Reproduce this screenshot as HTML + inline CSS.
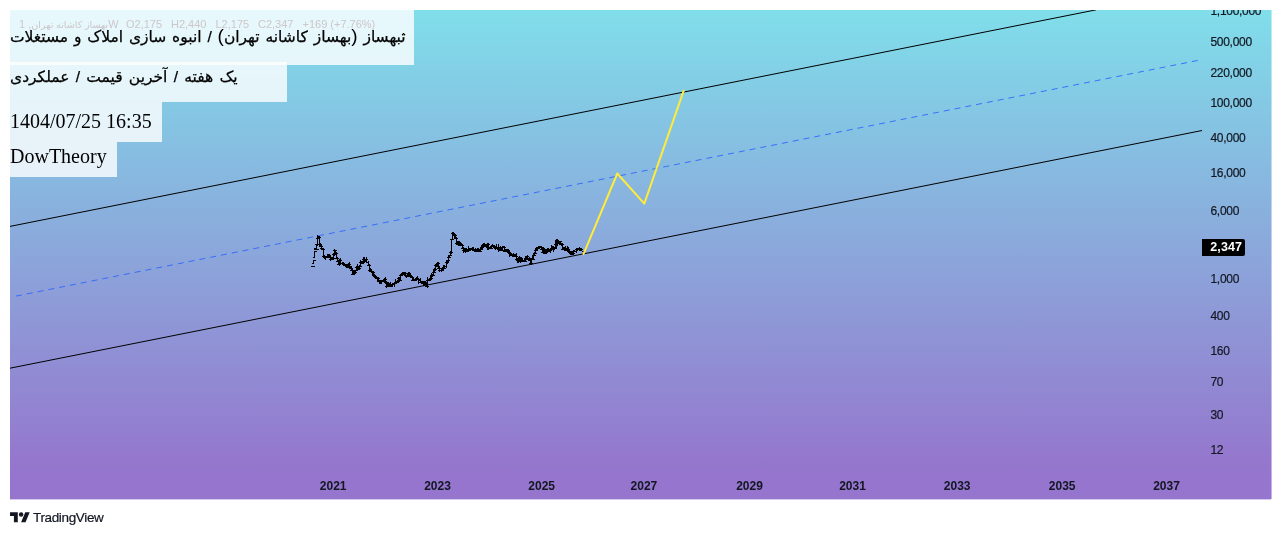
<!DOCTYPE html>
<html lang="fa"><head><meta charset="utf-8"><title>TradingView chart</title>
<style>
html,body{margin:0;padding:0;background:#fff;}
body{width:1282px;height:535px;position:relative;overflow:hidden;font-family:"Liberation Sans","DejaVu Sans",sans-serif;color:#131722;}
#chart{position:absolute;left:10px;top:10px;width:1261px;height:489px;overflow:hidden;background:linear-gradient(to bottom,#80deea 0px,#9575cd 461px,#9575cd 100%);}
#chart svg{position:absolute;left:0;top:0;}
.box{position:absolute;left:0;background:rgba(255,255,255,0.8);}
.t{position:absolute;white-space:nowrap;color:#000;font-family:"Liberation Serif","DejaVu Sans",serif;font-size:20px;line-height:24px;}
.fa{font-family:"Liberation Sans","DejaVu Sans",sans-serif;font-size:15.5px;word-spacing:0.8px;direction:rtl;unicode-bidi:plaintext;-webkit-text-stroke:0.25px #000;}
.pr{font-family:"Liberation Sans",sans-serif;font-size:19px;line-height:1px;-webkit-text-stroke:0;}
.lg{position:absolute;top:7px;font-size:11px;line-height:14px;color:#cdc6ca;white-space:nowrap;}
.p{position:absolute;left:1200.5px;font-size:12px;line-height:14px;letter-spacing:-0.3px;color:#131722;white-space:nowrap;-webkit-text-stroke:0.2px #131722;}
.y{position:absolute;top:469px;width:60px;margin-left:-30px;text-align:center;font-size:12px;line-height:14px;font-weight:bold;color:#131722;white-space:nowrap;}
#last{position:absolute;left:1191.8px;top:229.2px;width:43.2px;height:16.6px;background:#000;border-radius:0 2px 2px 0;color:#fff;font-weight:bold;font-size:12.5px;line-height:16.6px;letter-spacing:0.1px;}
#last span{position:absolute;left:8.5px;top:0;}
#brand{position:absolute;left:10px;top:509px;height:18px;white-space:nowrap;color:#131722;}
#brand svg{position:absolute;left:0;top:0.7px;}
#brand span{position:absolute;left:23px;top:0;font-size:13.5px;line-height:18px;letter-spacing:-0.35px;-webkit-text-stroke:0.2px #131722;}
</style></head>
<body>
<div id="chart">
<svg width="1261" height="489" viewBox="10 10 1261 489">
<g fill="none" stroke-linecap="butt">
<line x1="10" y1="226.4" x2="1096" y2="9.85" stroke="#000" stroke-width="1"/>
<line x1="10" y1="368.2" x2="1202" y2="130.52" stroke="#000" stroke-width="1"/>
<line x1="16" y1="296.10" x2="1198.5" y2="60.31" stroke="#2962ff" stroke-width="1" stroke-dasharray="6 5" opacity="0.85"/>
<path d="M310.5 266.5H315 M311.5 263.5H313.5V260H316 M312.5 257.5H314.5V251H317 M314 249H318.5 M316.5 243.5V249.0 M314.0 248.5H316.5M316.5 244.5H319.0 M317.5 235.0V246.4 M315.0 244.5H317.5M317.5 238.5H320.0 M318.5 235.5V238.7 M316.0 238.5H318.5M318.5 237.5H321.0 M319.5 235.5V246.7 M317.0 237.5H319.5M319.5 244.5H322.0 M320.5 243.1V247.0 M318.0 244.5H320.5M320.5 246.5H323.0 M321.5 244.5V249.5 M319.0 246.5H321.5M321.5 248.5H324.0 M322.5 247.9V250.2 M320.0 248.5H322.5M322.5 249.5H325.0 M323.5 248.1V257.1 M321.0 249.5H323.5M323.5 256.5H326.0 M324.5 255.1V258.5 M322.0 256.5H324.5M324.5 257.5H327.0 M325.5 256.1V260.1 M323.0 257.5H325.5M325.5 257.5H328.0 M326.5 256.1V258.2 M324.0 257.5H326.5M326.5 257.5H329.0 M327.5 254.4V258.3 M325.0 257.5H327.5M327.5 256.5H330.0 M328.5 253.8V258.4 M326.0 256.5H328.5M328.5 255.5H331.0 M329.5 254.2V257.6 M327.0 255.5H329.5M329.5 257.5H332.0 M330.5 256.3V261.1 M328.0 257.5H330.5M330.5 259.5H333.0 M331.5 256.5V259.8 M329.0 259.5H331.5M331.5 259.5H334.0 M332.5 257.1V259.7 M330.0 259.5H332.5M332.5 258.5H335.0 M333.5 252.8V259.9 M331.0 258.5H333.5M333.5 254.5H336.0 M334.5 249.3V256.4 M332.0 254.5H334.5M334.5 250.5H337.0 M335.5 249.6V253.8 M333.0 250.5H335.5M335.5 253.5H338.0 M336.5 252.2V259.4 M334.0 253.5H336.5M336.5 258.5H339.0 M337.5 257.4V262.0 M335.0 258.5H337.5M337.5 261.5H340.0 M338.5 259.5V265.0 M336.0 261.5H338.5M338.5 264.5H341.0 M339.5 259.2V266.0 M337.0 264.5H339.5M339.5 260.5H342.0 M340.5 257.9V263.5 M338.0 260.5H340.5M340.5 263.5H343.0 M342.5 262.3V264.0 M340.0 263.5H342.5M342.5 263.5H345.0 M343.5 262.4V264.9 M341.0 263.5H343.5M343.5 264.5H346.0 M344.5 262.5V265.1 M342.0 264.5H344.5M344.5 265.5H347.0 M345.5 263.6V267.3 M343.0 265.5H345.5M345.5 265.5H348.0 M346.5 263.8V268.3 M344.0 265.5H346.5M346.5 266.5H349.0 M347.5 265.5V267.2 M345.0 266.5H347.5M347.5 267.5H350.0 M348.5 263.0V268.0 M346.0 267.5H348.5M348.5 264.5H351.0 M349.5 261.7V268.4 M347.0 264.5H349.5M349.5 266.5H352.0 M350.5 265.8V268.7 M348.0 266.5H350.5M350.5 268.5H353.0 M351.5 267.1V271.0 M349.0 268.5H351.5M351.5 270.5H354.0 M352.5 268.1V275.0 M350.0 270.5H352.5M352.5 274.5H355.0 M353.5 271.1V274.5 M351.0 274.5H353.5M353.5 272.5H356.0 M354.5 270.3V273.7 M352.0 272.5H354.5M354.5 272.5H357.0 M355.5 269.7V273.7 M353.0 272.5H355.5M355.5 270.5H358.0 M356.5 265.9V271.0 M354.0 270.5H356.5M356.5 267.5H359.0 M357.5 264.4V270.0 M355.0 267.5H357.5M357.5 269.5H360.0 M358.5 267.0V269.7 M356.0 269.5H358.5M358.5 268.5H361.0 M359.5 265.4V269.2 M357.0 268.5H359.5M359.5 266.5H362.0 M360.5 259.5V267.0 M358.0 266.5H360.5M360.5 262.5H363.0 M361.5 260.5V264.3 M359.0 262.5H361.5M361.5 261.5H364.0 M362.5 260.9V263.5 M360.0 261.5H362.5M362.5 262.5H365.0 M363.5 257.4V264.0 M361.0 262.5H363.5M363.5 259.5H366.0 M364.5 256.7V262.2 M362.0 259.5H364.5M364.5 261.5H367.0 M365.5 258.6V261.5 M363.0 261.5H365.5M365.5 259.5H368.0 M366.5 257.2V262.5 M364.0 259.5H366.5M366.5 262.5H369.0 M368.5 260.5V266.2 M366.0 262.5H368.5M368.5 265.5H371.0 M369.5 263.9V270.9 M367.0 265.5H369.5M369.5 270.5H372.0 M370.5 268.3V272.3 M368.0 270.5H370.5M370.5 271.5H373.0 M371.5 269.4V272.6 M369.0 271.5H371.5M371.5 271.5H374.0 M372.5 270.7V274.5 M370.0 271.5H372.5M372.5 272.5H375.0 M373.5 271.1V275.9 M371.0 272.5H373.5M373.5 275.5H376.0 M374.5 274.3V277.2 M372.0 275.5H374.5M374.5 276.5H377.0 M375.5 274.5V278.5 M373.0 276.5H375.5M375.5 277.5H378.0 M376.5 275.9V279.2 M374.0 277.5H376.5M376.5 278.5H379.0 M377.5 276.9V280.9 M375.0 278.5H377.5M377.5 278.5H380.0 M378.5 277.2V282.3 M376.0 278.5H378.5M378.5 281.5H381.0 M379.5 280.4V284.1 M377.0 281.5H379.5M379.5 281.5H382.0 M380.5 280.2V284.1 M378.0 281.5H380.5M380.5 281.5H383.0 M381.5 279.7V284.1 M379.0 281.5H381.5M381.5 281.5H384.0 M382.5 280.2V282.0 M380.0 281.5H382.5M382.5 281.5H385.0 M383.5 279.0V282.1 M381.0 281.5H383.5M383.5 280.5H386.0 M384.5 277.9V280.4 M382.0 280.5H384.5M384.5 279.5H387.0 M385.5 276.7V283.8 M383.0 279.5H385.5M385.5 282.5H388.0 M386.5 281.2V288.0 M384.0 282.5H386.5M386.5 286.5H389.0 M387.5 283.3V287.1 M385.0 286.5H387.5M387.5 286.5H390.0 M388.5 282.1V286.4 M386.0 286.5H388.5M388.5 284.5H391.0 M389.5 282.9V287.1 M387.0 284.5H389.5M389.5 285.5H392.0 M390.5 282.4V286.6 M388.0 285.5H390.5M390.5 285.5H393.0 M391.5 283.6V286.8 M389.0 285.5H391.5M391.5 284.5H394.0 M392.5 282.9V286.5 M390.0 284.5H392.5M392.5 284.5H395.0 M394.5 281.7V286.8 M392.0 284.5H394.5M394.5 283.5H397.0 M395.5 279.2V284.2 M393.0 283.5H395.5M395.5 282.5H398.0 M396.5 281.4V283.1 M394.0 282.5H396.5M396.5 282.5H399.0 M397.5 279.5V282.8 M395.0 282.5H397.5M397.5 281.5H400.0 M398.5 276.9V281.9 M396.0 281.5H398.5M398.5 278.5H401.0 M399.5 276.8V281.0 M397.0 278.5H399.5M399.5 280.5H402.0 M400.5 274.8V280.5 M398.0 280.5H400.5M400.5 275.5H403.0 M401.5 273.0V275.9 M399.0 275.5H401.5M401.5 274.5H404.0 M402.5 271.6V274.3 M400.0 274.5H402.5M402.5 274.5H405.0 M403.5 272.1V274.2 M401.0 274.5H403.5M403.5 273.5H406.0 M404.5 272.0V274.1 M402.0 273.5H404.5M404.5 273.5H407.0 M405.5 271.5V277.1 M403.0 273.5H405.5M405.5 275.5H408.0 M406.5 274.5V277.8 M404.0 275.5H406.5M406.5 276.5H409.0 M407.5 272.5V276.9 M405.0 276.5H407.5M407.5 273.5H410.0 M408.5 272.0V275.8 M406.0 273.5H408.5M408.5 273.5H411.0 M409.5 272.3V276.2 M407.0 273.5H409.5M409.5 275.5H412.0 M410.5 272.5V277.2 M408.0 275.5H410.5M410.5 276.5H413.0 M411.5 275.3V277.9 M409.0 276.5H411.5M411.5 277.5H414.0 M412.5 276.2V280.4 M410.0 277.5H412.5M412.5 280.5H415.0 M413.5 276.7V280.9 M411.0 280.5H413.5M413.5 279.5H416.0 M414.5 278.7V281.0 M412.0 279.5H414.5M414.5 279.5H417.0 M415.5 278.3V281.0 M413.0 279.5H415.5M415.5 279.5H418.0 M416.5 277.0V281.1 M414.0 279.5H416.5M416.5 278.5H419.0 M417.5 276.2V280.1 M415.0 278.5H417.5M417.5 279.5H420.0 M418.5 277.5V284.2 M416.0 279.5H418.5M418.5 280.5H421.0 M420.5 277.8V283.0 M418.0 280.5H420.5M420.5 282.5H423.0 M421.5 281.0V283.5 M419.0 282.5H421.5M421.5 282.5H424.0 M422.5 281.1V283.6 M420.0 282.5H422.5M422.5 283.5H425.0 M423.5 280.7V285.9 M421.0 283.5H423.5M423.5 281.5H426.0 M424.5 280.8V282.4 M422.0 281.5H424.5M424.5 282.5H427.0 M425.5 281.3V284.6 M423.0 282.5H425.5M425.5 284.5H428.0 M426.5 282.3V286.8 M424.0 284.5H426.5M426.5 286.5H429.0 M427.5 277.3V288.2 M425.0 286.5H427.5M427.5 280.5H430.0 M428.5 279.1V280.9 M426.0 280.5H428.5M428.5 280.5H431.0 M429.5 278.1V280.6 M427.0 280.5H429.5M429.5 279.5H432.0 M430.5 276.4V281.3 M428.0 279.5H430.5M430.5 278.5H433.0 M431.5 272.6V279.1 M429.0 278.5H431.5M431.5 275.5H434.0 M432.5 273.8V277.1 M430.0 275.5H432.5M432.5 275.5H435.0 M433.5 270.0V276.3 M431.0 275.5H433.5M433.5 272.5H436.0 M434.5 268.1V272.9 M432.0 272.5H434.5M434.5 269.5H437.0 M435.5 263.7V270.7 M433.0 269.5H435.5M435.5 265.5H438.0 M436.5 263.6V267.3 M434.0 265.5H436.5M436.5 266.5H439.0 M437.5 261.5V266.6 M435.0 266.5H437.5M437.5 263.5H440.0 M438.5 262.0V268.8 M436.0 263.5H438.5M438.5 268.5H441.0 M439.5 266.3V271.5 M437.0 268.5H439.5M439.5 270.5H442.0 M440.5 269.5V271.0 M438.0 270.5H440.5M440.5 270.5H443.0 M441.5 269.0V271.5 M439.0 270.5H441.5M441.5 270.5H444.0 M442.5 267.3V270.7 M440.0 270.5H442.5M442.5 268.5H445.0 M443.5 265.3V270.3 M441.0 268.5H443.5M443.5 268.5H446.0 M444.5 264.8V268.3 M442.0 268.5H444.5M444.5 266.5H447.0 M446.5 261.2V267.7 M444.0 266.5H446.5M446.5 262.5H449.0 M447.5 259.7V264.1 M445.0 262.5H447.5M447.5 260.5H450.0 M448.5 255.4V262.1 M446.0 260.5H448.5M448.5 257.5H451.0 M449.5 254.5V257.4 M447.0 257.5H449.5M449.5 255.5H452.0 M450.5 251.0V256.3 M448.0 255.5H450.5M450.5 252.5H453.0 M451.5 238.7V253.5 M449.0 252.5H451.5M451.5 239.5H454.0 M452.5 232.3V239.9 M450.0 239.5H452.5M452.5 233.5H455.0 M453.5 232.1V235.6 M451.0 233.5H453.5M453.5 234.5H456.0 M454.5 232.7V237.6 M452.0 234.5H454.5M454.5 235.5H457.0 M455.5 234.0V238.8 M453.0 235.5H455.5M455.5 238.5H458.0 M456.5 237.0V243.7 M454.0 238.5H456.5M456.5 243.5H459.0 M457.5 241.2V244.4 M455.0 243.5H457.5M457.5 244.5H460.0 M458.5 241.3V245.7 M456.0 244.5H458.5M458.5 242.5H461.0 M459.5 241.2V245.7 M457.0 242.5H459.5M459.5 244.5H462.0 M460.5 242.8V245.5 M458.0 244.5H460.5M460.5 244.5H463.0 M461.5 242.5V246.4 M459.0 244.5H461.5M461.5 245.5H464.0 M462.5 243.7V249.3 M460.0 245.5H462.5M462.5 248.5H465.0 M463.5 247.0V253.2 M461.0 248.5H463.5M463.5 250.5H466.0 M464.5 249.3V251.9 M462.0 250.5H464.5M464.5 251.5H467.0 M465.5 248.1V252.5 M463.0 251.5H465.5M465.5 249.5H468.0 M466.5 247.9V252.1 M464.0 249.5H466.5M466.5 251.5H469.0 M467.5 248.6V252.2 M465.0 251.5H467.5M467.5 249.5H470.0 M468.5 246.2V251.3 M466.0 249.5H468.5M468.5 250.5H471.0 M469.5 248.1V250.3 M467.0 250.5H469.5M469.5 249.5H472.0 M470.5 247.7V251.0 M468.0 249.5H470.5M470.5 248.5H473.0 M472.5 247.4V249.7 M470.0 248.5H472.5M472.5 249.5H475.0 M473.5 247.2V250.5 M471.0 249.5H473.5M473.5 250.5H476.0 M474.5 248.6V250.6 M472.0 250.5H474.5M474.5 249.5H477.0 M475.5 248.2V251.8 M473.0 249.5H475.5M475.5 251.5H478.0 M476.5 250.2V251.8 M474.0 251.5H476.5M476.5 251.5H479.0 M477.5 248.1V251.9 M475.0 251.5H477.5M477.5 249.5H480.0 M478.5 248.3V252.2 M476.0 249.5H478.5M478.5 250.5H481.0 M479.5 249.0V251.6 M477.0 250.5H479.5M479.5 251.5H482.0 M480.5 248.3V251.6 M478.0 251.5H480.5M480.5 249.5H483.0 M481.5 246.3V249.5 M479.0 249.5H481.5M481.5 247.5H484.0 M482.5 243.8V248.6 M480.0 247.5H482.5M482.5 245.5H485.0 M483.5 243.4V247.0 M481.0 245.5H483.5M483.5 244.5H486.0 M484.5 243.1V245.6 M482.0 244.5H484.5M484.5 245.5H487.0 M485.5 244.3V247.4 M483.0 245.5H485.5M485.5 246.5H488.0 M486.5 244.2V248.4 M484.0 246.5H486.5M486.5 246.5H489.0 M487.5 242.8V249.6 M485.0 246.5H487.5M487.5 244.5H490.0 M488.5 243.1V249.6 M486.0 244.5H488.5M488.5 248.5H491.0 M489.5 246.8V249.2 M487.0 248.5H489.5M489.5 248.5H492.0 M490.5 247.3V249.3 M488.0 248.5H490.5M490.5 248.5H493.0 M491.5 244.8V248.8 M489.0 248.5H491.5M491.5 246.5H494.0 M492.5 244.3V246.9 M490.0 246.5H492.5M492.5 245.5H495.0 M493.5 244.6V247.0 M491.0 245.5H493.5M493.5 246.5H496.0 M494.5 245.4V248.4 M492.0 246.5H494.5M494.5 247.5H497.0 M495.5 246.0V249.7 M493.0 247.5H495.5M495.5 248.5H498.0 M496.5 244.2V249.0 M494.0 248.5H496.5M496.5 247.5H499.0 M498.5 244.2V251.5 M496.0 247.5H498.5M498.5 249.5H501.0 M499.5 246.5V251.2 M497.0 249.5H499.5M499.5 248.5H502.0 M500.5 245.7V249.2 M498.0 248.5H500.5M500.5 248.5H503.0 M501.5 247.2V251.2 M499.0 248.5H501.5M501.5 250.5H504.0 M502.5 245.5V250.8 M500.0 250.5H502.5M502.5 247.5H505.0 M503.5 245.8V247.9 M501.0 247.5H503.5M503.5 247.5H506.0 M504.5 245.9V251.4 M502.0 247.5H504.5M504.5 251.5H507.0 M505.5 249.3V251.7 M503.0 251.5H505.5M505.5 250.5H508.0 M506.5 249.1V251.5 M504.0 250.5H506.5M506.5 251.5H509.0 M507.5 248.8V251.3 M505.0 251.5H507.5M507.5 250.5H510.0 M508.5 248.9V252.9 M506.0 250.5H508.5M508.5 252.5H511.0 M509.5 250.1V256.8 M507.0 252.5H509.5M509.5 253.5H512.0 M510.5 252.1V256.4 M508.0 253.5H510.5M510.5 255.5H513.0 M511.5 253.6V256.4 M509.0 255.5H511.5M511.5 255.5H514.0 M512.5 254.2V255.6 M510.0 255.5H512.5M512.5 255.5H515.0 M513.5 253.2V256.9 M511.0 255.5H513.5M513.5 256.5H516.0 M514.5 254.3V257.0 M512.0 256.5H514.5M514.5 255.5H517.0 M515.5 254.3V257.1 M513.0 255.5H515.5M515.5 256.5H518.0 M516.5 253.3V260.0 M514.0 256.5H516.5M516.5 259.5H519.0 M517.5 257.9V262.5 M515.0 259.5H517.5M517.5 260.5H520.0 M518.5 256.7V263.0 M516.0 260.5H518.5M518.5 258.5H521.0 M519.5 255.9V262.4 M517.0 258.5H519.5M519.5 261.5H522.0 M520.5 256.7V263.4 M518.0 261.5H520.5M520.5 258.5H523.0 M521.5 256.9V262.4 M519.0 258.5H521.5M521.5 261.5H524.0 M522.5 259.1V262.1 M520.0 261.5H522.5M522.5 260.5H525.0 M524.5 258.7V261.6 M522.0 260.5H524.5M524.5 261.5H527.0 M525.5 256.1V261.4 M523.0 261.5H525.5M525.5 258.5H528.0 M526.5 255.6V258.5 M524.0 258.5H526.5M526.5 256.5H529.0 M527.5 254.8V260.1 M525.0 256.5H527.5M527.5 259.5H530.0 M528.5 257.8V259.8 M526.0 259.5H528.5M528.5 259.5H531.0 M529.5 257.3V260.7 M527.0 259.5H529.5M529.5 260.5H532.0 M530.5 258.2V264.3 M528.0 260.5H530.5M530.5 263.5H533.0 M531.5 258.3V264.5 M529.0 263.5H531.5M531.5 259.5H534.0 M532.5 256.4V260.0 M530.0 259.5H532.5M532.5 259.5H535.0 M533.5 254.4V259.6 M531.0 259.5H533.5M533.5 255.5H536.0 M534.5 251.5V256.2 M532.0 255.5H534.5M534.5 253.5H537.0 M535.5 249.3V253.8 M533.0 253.5H535.5M535.5 250.5H538.0 M536.5 246.9V250.5 M534.0 250.5H536.5M536.5 248.5H539.0 M537.5 246.5V249.6 M535.0 248.5H537.5M537.5 248.5H540.0 M538.5 245.9V248.4 M536.0 248.5H538.5M538.5 247.5H541.0 M539.5 246.0V249.4 M537.0 247.5H539.5M539.5 247.5H542.0 M540.5 245.9V247.8 M538.0 247.5H540.5M540.5 247.5H543.0 M541.5 246.2V250.3 M539.0 247.5H541.5M541.5 249.5H544.0 M542.5 246.5V252.7 M540.0 249.5H542.5M542.5 252.5H545.0 M543.5 247.3V252.7 M541.0 252.5H543.5M543.5 249.5H546.0 M544.5 248.2V253.8 M542.0 249.5H544.5M544.5 253.5H547.0 M545.5 251.3V254.1 M543.0 253.5H545.5M545.5 252.5H548.0 M546.5 248.8V253.6 M544.0 252.5H546.5M546.5 250.5H549.0 M547.5 247.7V253.1 M545.0 250.5H547.5M547.5 251.5H550.0 M548.5 248.0V251.5 M546.0 251.5H548.5M548.5 250.5H551.0 M550.5 248.4V252.7 M548.0 250.5H550.5M550.5 249.5H553.0 M551.5 245.3V251.0 M549.0 249.5H551.5M551.5 248.5H554.0 M552.5 246.0V249.9 M550.0 248.5H552.5M552.5 249.5H555.0 M553.5 246.4V252.0 M551.0 249.5H553.5M553.5 248.5H556.0 M554.5 246.8V249.8 M552.0 248.5H554.5M554.5 248.5H557.0 M555.5 240.9V248.8 M553.0 248.5H555.5M555.5 244.5H558.0 M556.5 239.2V247.8 M554.0 244.5H556.5M556.5 240.5H559.0 M557.5 238.8V245.6 M555.0 240.5H557.5M557.5 243.5H560.0 M558.5 240.4V244.4 M556.0 243.5H558.5M558.5 241.5H561.0 M559.5 240.5V243.1 M557.0 241.5H559.5M559.5 241.5H562.0 M560.5 240.8V244.5 M558.0 241.5H560.5M560.5 244.5H563.0 M561.5 242.6V245.5 M559.0 244.5H561.5M561.5 244.5H564.0 M562.5 243.4V249.8 M560.0 244.5H562.5M562.5 249.5H565.0 M563.5 247.4V249.9 M561.0 249.5H563.5M563.5 249.5H566.0 M564.5 246.8V251.2 M562.0 249.5H564.5M564.5 249.5H567.0 M565.5 245.9V251.2 M563.0 249.5H565.5M565.5 250.5H568.0 M566.5 248.3V251.1 M564.0 250.5H566.5M566.5 249.5H569.0 M567.5 246.2V249.8 M565.0 249.5H567.5M567.5 249.5H570.0 M568.5 247.3V252.7 M566.0 249.5H568.5M568.5 251.5H571.0 M569.5 249.6V252.7 M567.0 251.5H569.5M569.5 252.5H572.0 M570.5 250.9V254.7 M568.0 252.5H570.5M570.5 253.5H573.0 M571.5 250.6V255.2 M569.0 253.5H571.5M571.5 254.5H574.0 M572.5 251.3V254.7 M570.0 254.5H572.5M572.5 253.5H575.0 M573.5 249.8V253.5 M571.0 253.5H573.5M573.5 251.5H576.0 M574.5 250.4V252.1 M572.0 251.5H574.5M574.5 251.5H577.0 M576.5 248.4V253.2 M574.0 251.5H576.5M576.5 249.5H579.0 M577.5 248.2V251.1 M575.0 249.5H577.5M577.5 249.5H580.0 M578.5 247.5V250.3 M576.0 249.5H578.5M578.5 248.5H581.0 M579.5 247.2V251.4 M577.0 248.5H579.5M579.5 249.5H582.0 M580.5 248.1V251.1 M578.0 249.5H580.5M580.5 249.5H583.0 M581.5 247.7V251.4 M579.0 249.5H581.5M581.5 251.5H584.0" stroke="#000" stroke-width="1" shape-rendering="crispEdges"/>
<polyline points="583.5,254.1 617.3,173.5 644.3,203.7 683.7,90.7" stroke="#ffeb3b" stroke-width="2" stroke-linejoin="round" stroke-linecap="round"/>
</g>
</svg>
<div class="box" style="top:-10px;width:404px;height:64.8px;"></div>
<div class="box" style="top:52px;width:277.1px;height:39.9px;"></div>
<div class="box" style="top:91.9px;width:151.7px;height:40.1px;"></div>
<div class="box" style="top:132px;width:106.8px;height:44.9px;height:34.9px;"></div>
<div class="t fa" id="l1" style="left:0;top:15px;word-spacing:1.55px;">ثبهساز <span class="pr">(</span>بهساز کاشانه تهران<span class="pr">)</span> / انبوه سازی املاک و مستغلات</div>
<div class="t fa" id="l2" style="left:0;top:55px;word-spacing:1.95px;">یک هفته / آخرین قیمت / عملکردی</div>
<div class="t" id="l3" style="left:0px;top:98.5px;">1404/07/25 16:35</div>
<div class="t" id="l4" style="left:0;top:134px;">DowTheory</div>
<div class="lg" style="left:9px;"><span style="font-size:9.6px">بهساز کاشانه تهران</span>, 1W</div>
<div class="lg" style="left:116px;">O2,175</div>
<div class="lg" style="left:161px;">H2,440</div>
<div class="lg" style="left:205.5px;">L2,175</div>
<div class="lg" style="left:248px;">C2,347</div>
<div class="lg" style="left:292.5px;">+169 (+7.76%)</div>
<div class="p" style="top:25.2px;">500,000</div>
<div class="p" style="top:56.0px;">220,000</div>
<div class="p" style="top:86.0px;">100,000</div>
<div class="p" style="top:121.4px;">40,000</div>
<div class="p" style="top:156.1px;">16,000</div>
<div class="p" style="top:193.8px;">6,000</div>
<div class="p" style="top:262.2px;">1,000</div>
<div class="p" style="top:299.4px;">400</div>
<div class="p" style="top:334.2px;">160</div>
<div class="p" style="top:365.2px;">70</div>
<div class="p" style="top:398.0px;">30</div>
<div class="p" style="top:433.0px;">12</div>
<div class="p" style="top:-5.7px;">1,100,000</div>
<div id="last"><span>2,347</span></div>
<div class="y" style="left:323.2px;">2021</div>
<div class="y" style="left:427.5px;">2023</div>
<div class="y" style="left:531.7px;">2025</div>
<div class="y" style="left:633.9px;">2027</div>
<div class="y" style="left:739.5px;">2029</div>
<div class="y" style="left:842.5px;">2031</div>
<div class="y" style="left:947.2px;">2033</div>
<div class="y" style="left:1052.2px;">2035</div>
<div class="y" style="left:1156.5px;">2037</div>
</div>
<div style="position:absolute;left:1271px;top:10px;width:1px;height:489px;opacity:0.55;background:linear-gradient(to bottom,#80deea 0px,#9575cd 461px,#9575cd 100%);"></div>
<div style="position:absolute;left:10px;top:499px;width:1261px;height:1px;opacity:0.4;background:#9575cd;"></div>
<div id="brand"><svg width="20" height="15.5" viewBox="0 0 36 28"><path d="M14 22H7V11H0V4h14v18zM28 22h-8l7.5-18h8L28 22z" fill="#131722"/><circle cx="20" cy="8" r="4" fill="#131722"/></svg><span>TradingView</span></div>
</body></html>
